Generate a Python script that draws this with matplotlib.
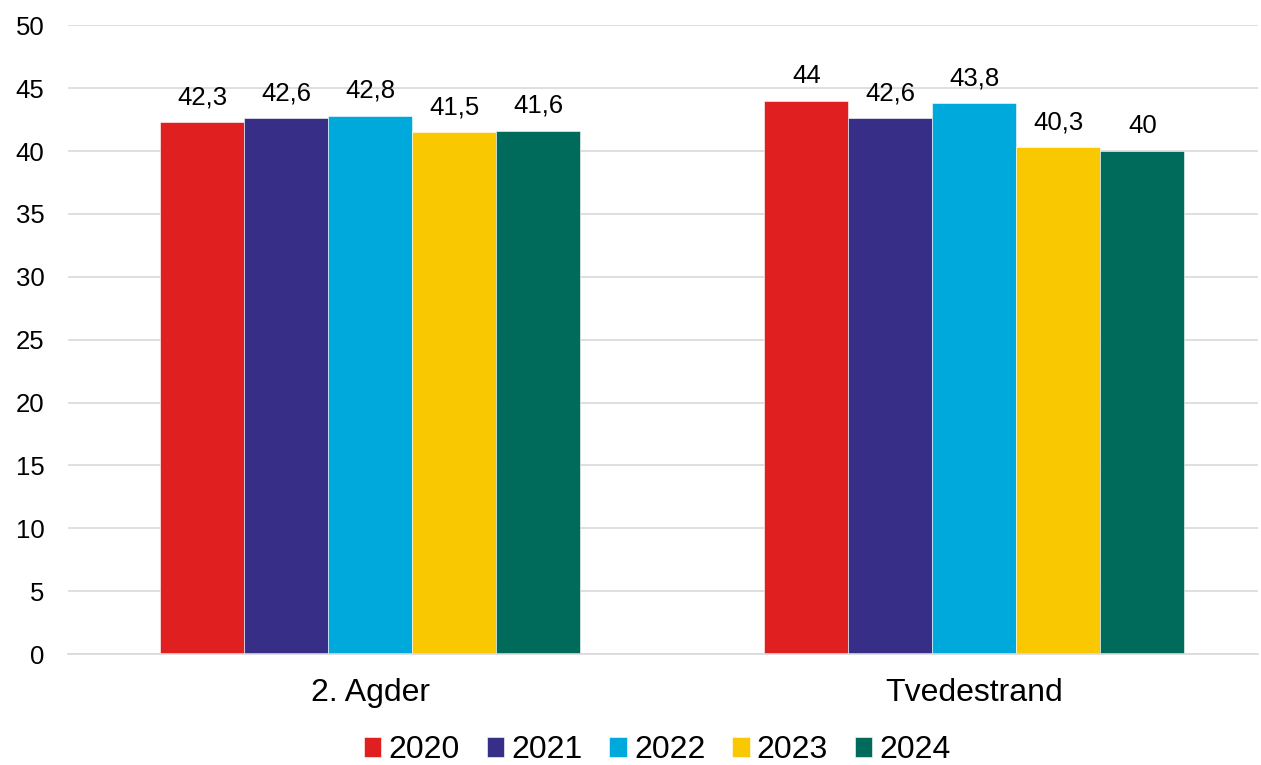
import numpy as np
import matplotlib
matplotlib.use("Agg")
from matplotlib import pyplot as plt

plt.rcParams['font.family'] = ['Liberation Sans', 'DejaVu Sans']

categories = ['2. Agder', 'Tvedestrand']
years = ['2020', '2021', '2022', '2023', '2024']
values = [
	[42.3, 44.0],
	[42.6, 42.6],
	[42.8, 43.8],
	[41.5, 40.3],
	[41.6, 40.0],
]
colors = ['#E02020', '#372E87', '#00A9DC', '#F9C800', '#006B5B']


def fmt(v):
	# norwegian decimal comma
	return ('%g' % v).replace('.', ',')


fig = plt.figure(figsize=(12.61, 7.65), dpi=100)
ax = fig.add_axes([0.054, 0.145, 0.944, 0.822])

x = np.arange(len(categories))
width = 0.139
for i, (yr, vals, c) in enumerate(zip(years, values, colors)):
	pos = x + (i - 2) * width
	bars = ax.bar(pos, vals, width, color=c, label=yr, zorder=2,
		edgecolor='white', linewidth=0.4)
	for b, v in zip(bars, vals):
		ax.annotate(fmt(v), (b.get_x() + b.get_width() / 2, v),
			xytext=(0, 13), textcoords='offset points',
			ha='center', va='baseline', fontsize=18.5)

ax.set_xlim(-0.5, 1.47)
ax.set_ylim(0, 50)
ax.set_yticks(np.arange(0, 51, 5))
ax.set_xticks(x)
ax.set_xticklabels(categories, fontsize=23)
ax.tick_params(axis='y', labelsize=18.5, length=0, pad=17)
ax.tick_params(axis='x', length=0, pad=17)
ax.yaxis.grid(True, color='#D9D9D9', linewidth=1.2, zorder=0)
for s in ['top', 'right', 'left']:
	ax.spines[s].set_visible(False)
ax.spines['bottom'].set_color('#D9D9D9')
ax.spines['bottom'].set_linewidth(1.2)

ax.legend(loc='center', bbox_to_anchor=(0.495, -0.153), ncol=5, frameon=False,
	fontsize=23, handlelength=0.55, handleheight=0.55, handletextpad=0.22,
	columnspacing=0.84, borderaxespad=0)

fig.savefig('out.png', dpi=100)
